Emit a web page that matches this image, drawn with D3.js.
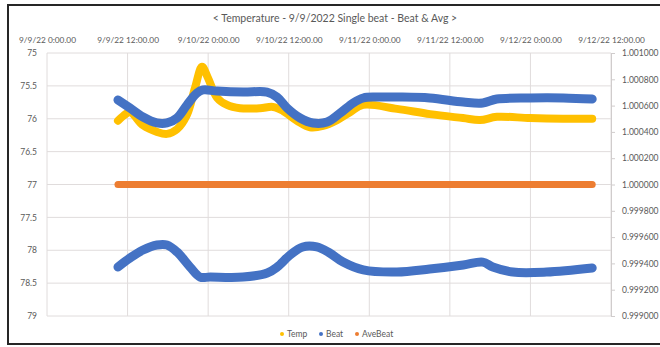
<!DOCTYPE html>
<html>
<head>
<meta charset="utf-8">
<script src="https://cdn.jsdelivr.net/npm/d3@7/dist/d3.min.js"></script>
<style>
  html, body { margin: 0; padding: 0; background: #ffffff; }
  svg { display: block; }
  text { font-family: Lato, "Liberation Sans", sans-serif; fill: #595959; }
</style>
</head>
<body>
<svg id="chart" width="660" height="347"></svg>
<script>
// ---------- DATA (hours since 9/9/22 0:00) ----------
const chartTitle = "< Temperature - 9/9/2022 Single beat - Beat & Avg >";
const xTickHours = [0, 12, 24, 36, 48, 60, 72, 84];
const xTickLabels = ["9/9/22 0:00.00", "9/9/22 12:00.00", "9/10/22 0:00.00", "9/10/22 12:00.00",
                     "9/11/22 0:00.00", "9/11/22 12:00.00", "9/12/22 0:00.00", "9/12/22 12:00.00"];
const leftTicks = [75, 75.5, 76, 76.5, 77, 77.5, 78, 78.5, 79];
const rightTicks = [1.001, 1.0008, 1.0006, 1.0004, 1.0002, 1.0, 0.9998, 0.9996, 0.9994, 0.9992, 0.999];
const legendNames = ["Temp", "Beat", "AveBeat"];

const tempHours  = [10.57, 11.32, 12.36, 14.30, 16.38, 17.87, 19.36, 20.85, 22.04, 23.09, 23.98, 25.32, 26.81, 28.75,
                    31.72, 33.66, 35.15, 37.24, 39.17, 41.11, 43.19, 45.13, 47.07, 52.13, 57.04, 61.96, 64.49, 67.02,
                    71.94, 76.85, 81.2];
const tempValues = [76.03, 75.96, 75.90, 76.10, 76.20, 76.23, 76.16, 75.94, 75.53, 75.21, 75.38, 75.68, 75.79, 75.84,
                    75.84, 75.82, 75.88, 76.03, 76.13, 76.11, 76.02, 75.90, 75.79, 75.85, 75.93, 75.99, 76.02, 75.97,
                    75.99, 76.00, 76.00];

const beatHighHours  = [10.57, 12.36, 14.30, 16.38, 17.87, 19.36, 20.85, 22.34, 23.24, 25.32, 29.2, 32.77, 34.26, 35.75,
                        37.69, 39.62, 41.71, 43.7, 45.6, 47.1, 49.1, 52.1, 57.0, 62.0, 64.9, 67.0, 71.9, 76.9, 81.2];
const beatHighValues = [1.000643, 1.000582, 1.000513, 1.000468, 1.000468, 1.000506, 1.000605, 1.000696, 1.000719,
                        1.000711, 1.000703, 1.000703, 1.000665, 1.000582, 1.000506, 1.000468, 1.000475, 1.000544,
                        1.000620, 1.000658, 1.000665, 1.000665, 1.000658, 1.000627, 1.000620, 1.000650, 1.000658,
                        1.000658, 1.000650];

const beatLowHours  = [10.57, 12.36, 14.30, 16.38, 17.87, 19.36, 21.3, 22.8, 24.3, 29.2, 32.8, 34.3, 36.2, 38.1, 40.2,
                       42.1, 44.1, 47.1, 52.1, 57.0, 62.0, 64.9, 66.4, 69.4, 74.4, 81.2];
const beatLowValues = [0.999373, 0.999441, 0.999502, 0.999540, 0.999540, 0.999487, 0.999373, 0.999296, 0.999296,
                       0.999296, 0.999327, 0.999373, 0.999464, 0.999525, 0.999525, 0.999479, 0.999410, 0.999350,
                       0.999334, 0.999357, 0.999388, 0.999410, 0.999373, 0.999334, 0.999334, 0.999365];

const aveHours  = [10.57, 20, 30, 40, 50, 60, 70, 81.2];
const aveValues = [1.0, 1.0, 1.0, 1.0, 1.0, 1.0, 1.0, 1.0];

// ---------- LAYOUT ----------
const colors = { temp: "#FFC000", beat: "#4472C4", ave: "#ED7D31" };
const plot = { left: 47, right: 611, top: 53, bottom: 316 };
const startDate = new Date(2022, 8, 9, 0, 0);
const toDate = h => new Date(startDate.getTime() + h * 3600000);

const svg = d3.select("#chart");

// frame
svg.append("rect").attr("x", 8).attr("y", 5).attr("width", 700).attr("height", 339)
  .attr("fill", "#fff").attr("stroke", "#262626").attr("stroke-width", 2);

const x = d3.scaleTime().domain([toDate(0), toDate(84)]).range([plot.left, plot.right]);
const yL = d3.scaleLinear().domain([75, 79]).range([plot.top, plot.bottom]);
const yR = d3.scaleLinear().domain([0.999, 1.001]).range([plot.bottom, plot.top]);

// gridlines
const grid = svg.append("g");
grid.selectAll("line.h").data(leftTicks).enter().append("line")
  .attr("x1", plot.left).attr("x2", plot.right)
  .attr("y1", d => yL(d)).attr("y2", d => yL(d))
  .attr("stroke", "#e0dcdc").attr("stroke-width", 1);
grid.selectAll("line.v").data(xTickHours).enter().append("line")
  .attr("x1", d => x(toDate(d))).attr("x2", d => x(toDate(d)))
  .attr("y1", plot.top).attr("y2", plot.bottom)
  .attr("stroke", "#e0dcdc").attr("stroke-width", 1);

// axes
const axTop = d3.axisTop(x).tickValues(xTickHours.map(toDate))
  .tickFormat((d, i) => xTickLabels[i]).tickSize(0).tickPadding(0);
const gTop = svg.append("g").attr("transform", `translate(0,${plot.top - 10})`).call(axTop);
gTop.select(".domain").remove();
gTop.selectAll("text").style("font-size", "8.3px").attr("fill", "#595959");

const axLeft = d3.axisLeft(yL).tickValues(leftTicks).tickFormat(d3.format("")).tickSize(0).tickPadding(0);
const gLeft = svg.append("g").attr("transform", `translate(${plot.left - 10},0)`).call(axLeft);
gLeft.select(".domain").remove();
gLeft.selectAll("text").style("font-size", "8.5px").attr("fill", "#595959");

const axRight = d3.axisRight(yR).tickValues(rightTicks).tickFormat(d3.format(".6f")).tickSize(4).tickPadding(7);
const gRight = svg.append("g").attr("transform", `translate(${plot.right},0)`).call(axRight);
gRight.select(".domain").attr("stroke", "#d0cccc");
gRight.selectAll(".tick line").attr("stroke", "#d0cccc");
gRight.selectAll("text").style("font-size", "8.5px").attr("fill", "#595959");

// series
const curve = d3.curveCatmullRom.alpha(0.5);
const lineL = d3.line().x(d => x(toDate(d[0]))).y(d => yL(d[1])).curve(curve);
const lineR = d3.line().x(d => x(toDate(d[0]))).y(d => yR(d[1])).curve(curve);
const zip = (a, b) => a.map((v, i) => [v, b[i]]);

function band(data, gen, color, w) {
  svg.append("path").datum(data).attr("d", gen)
    .attr("fill", "none").attr("stroke", color).attr("stroke-width", w)
    .attr("stroke-linecap", "round").attr("stroke-linejoin", "round");
}
band(zip(tempHours, tempValues), lineL, colors.temp, 8);
band(zip(beatHighHours, beatHighValues), lineR, colors.beat, 9);
band(zip(beatLowHours, beatLowValues), lineR, colors.beat, 9);
band(zip(aveHours, aveValues), lineR, colors.ave, 7);

// title
svg.append("text").attr("x", 335).attr("y", 22).attr("text-anchor", "middle")
  .style("font-size", "10.5px").text(chartTitle);

// legend
const legendColors = [colors.temp, colors.beat, colors.ave];
const legendX = [282, 321, 357];
const lg = svg.append("g");
legendNames.forEach((name, i) => {
  lg.append("circle").attr("cx", legendX[i]).attr("cy", 334).attr("r", 2).attr("fill", legendColors[i]);
  lg.append("text").attr("x", legendX[i] + 5).attr("y", 337).style("font-size", "8.5px").text(name);
});
</script>
</body>
</html>
